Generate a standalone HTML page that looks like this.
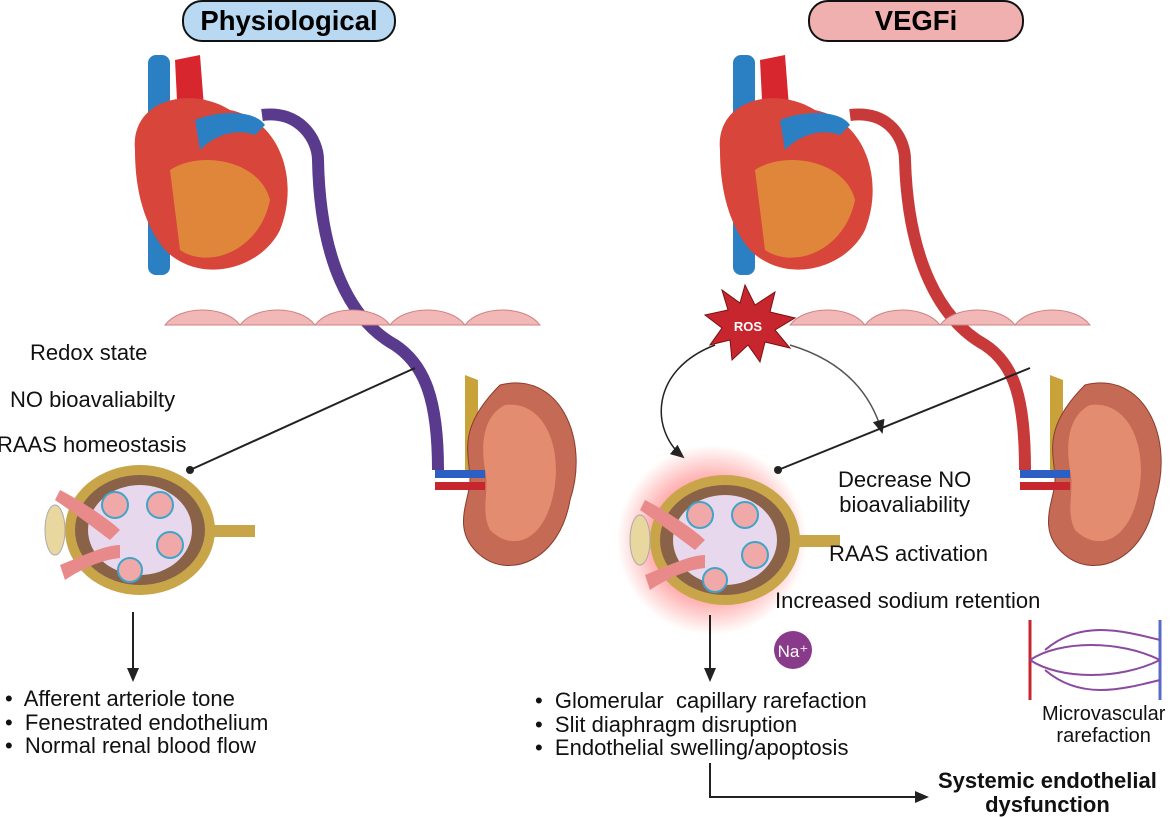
<!DOCTYPE html>
<html><head><meta charset="utf-8"><style>
body{margin:0;background:#fff;width:1171px;height:816px;overflow:hidden;position:relative;font-family:"Liberation Sans",sans-serif}
.t{position:absolute;font-size:22px;color:#111;white-space:nowrap}
.pill{position:absolute;top:0;height:38px;border:2px solid #111;border-radius:20px;font-weight:bold;font-size:27.5px;text-align:center;line-height:38px}
</style></head><body>
<div class="pill" style="left:182px;width:210px;background:#b8d9f1">Physiological</div>
<div class="pill" style="left:808px;width:212px;background:#f1b0b0">VEGFi</div>
<svg width="1171" height="816" style="position:absolute;left:0;top:0">
<defs>
<radialGradient id="glow"><stop offset="0.55" stop-color="#f55" stop-opacity="0.6"/><stop offset="1" stop-color="#f55" stop-opacity="0"/></radialGradient>
<marker id="ar" markerUnits="userSpaceOnUse" markerWidth="14" markerHeight="12" refX="12" refY="6" orient="auto"><path d="M0,0 L14,6 L0,12z" fill="#222"/></marker>
</defs>
<g id="heart">
<rect x="148" y="55" width="22" height="220" rx="8" fill="#2b7fc3"/>
<path d="M175 60 L178 120 L205 120 L200 55 Z" fill="#d8262f"/>
<path d="M135 150 C130 100 190 85 230 110 C280 120 300 180 280 230 C260 270 200 285 165 250 C140 220 135 180 135 150Z" fill="#d8453a"/>
<path d="M170 170 C200 150 260 160 270 200 C260 250 210 270 180 250Z" fill="#e0863a"/>
<path d="M195 120 C220 110 255 110 265 125 L255 135 C235 128 215 135 200 150Z" fill="#2b7fc3"/>
</g>
<use href="#heart" x="585"/>
<path d="M262 115 C300 110 318 140 318 160 C320 260 350 320 395 345 C425 365 438 400 438 470" stroke="#5a3a8c" stroke-width="12" fill="none"/>
<path d="M850 115 C890 110 905 140 905 160 C908 260 940 320 985 345 C1015 365 1025 400 1025 470" stroke="#c83a3a" stroke-width="12" fill="none"/>
<g fill="#f2b8b8" stroke="#d08080">
<path d="M165 325 C180 305 225 305 240 325Z"/><path d="M240 325 C255 305 300 305 315 325Z"/><path d="M315 325 C330 305 375 305 390 325Z"/><path d="M390 325 C405 305 450 305 465 325Z"/><path d="M465 325 C480 305 525 305 540 325Z"/>
<path d="M790 325 C805 305 850 305 865 325Z"/><path d="M865 325 C880 305 925 305 940 325Z"/><path d="M940 325 C955 305 1000 305 1015 325Z"/><path d="M1015 325 C1030 305 1075 305 1090 325Z"/>
</g>
<g id="kid">
<path d="M465 375 L465 470 L478 470 L478 380Z" fill="#c9a33a"/>
<path d="M500 385 C560 370 590 440 570 500 C560 560 510 580 480 555 C450 530 470 500 470 480 C470 455 455 430 500 385Z" fill="#c46a55" stroke="#8a3d2e"/>
<path d="M505 405 C545 400 565 450 552 500 C540 545 510 550 490 530 C480 510 490 490 485 470 C480 440 485 415 505 405Z" fill="#e48c70"/>
<rect x="435" y="470" width="50" height="8" fill="#2b5fc3"/><rect x="435" y="482" width="50" height="8" fill="#c8262f"/>
</g>
<use href="#kid" x="585"/>
<polygon points="745,285 755,305 775,292 770,312 795,318 775,330 790,348 765,342 760,362 748,345 732,360 730,340 710,345 722,328 705,315 728,310 722,290 740,303" fill="#c8262f" stroke="#7a1010"/>
<text x="748" y="331" font-size="13" font-weight="bold" fill="#fff" text-anchor="middle" font-family="Liberation Sans">ROS</text>
<path d="M715 345 C650 370 650 430 683 457" stroke="#222" stroke-width="1.5" fill="none" marker-end="url(#ar)"/>
<path d="M790 345 C840 360 870 390 882 432" stroke="#555" stroke-width="1.5" fill="none" marker-end="url(#ar)"/>
<line x1="415" y1="368" x2="190" y2="470" stroke="#222" stroke-width="2"/><circle cx="190" cy="470" r="4" fill="#222"/>
<line x1="1030" y1="368" x2="778" y2="470" stroke="#222" stroke-width="2"/><circle cx="778" cy="470" r="4" fill="#222"/>
<circle cx="712" cy="540" r="95" fill="url(#glow)"/>
<g id="glom">
<ellipse cx="140" cy="530" rx="75" ry="65" fill="#c9a54a"/>
<ellipse cx="140" cy="530" rx="65" ry="55" fill="#8a6248"/>
<ellipse cx="140" cy="530" rx="52" ry="45" fill="#e8d8ee"/>
<g fill="#f0a8a8" stroke="#3fa5c8" stroke-width="2"><circle cx="115" cy="505" r="13"/><circle cx="160" cy="505" r="13"/><circle cx="170" cy="545" r="13"/><circle cx="130" cy="570" r="12"/></g>
<path d="M60 490 C80 500 110 520 120 530 L110 540 C90 525 70 510 55 500Z" fill="#e88a8a"/>
<path d="M60 565 C85 555 105 545 120 545 L120 558 C100 560 80 570 65 580Z" fill="#e88a8a"/>
<rect x="210" y="525" width="45" height="12" fill="#c9a54a"/>
<ellipse cx="55" cy="530" rx="10" ry="25" fill="#e8d8a0" stroke="#aaa"/>
</g>
<use href="#glom" x="585" y="10"/>
<line x1="133" y1="612" x2="133" y2="680" stroke="#222" stroke-width="2" marker-end="url(#ar)"/>
<line x1="710" y1="615" x2="710" y2="680" stroke="#222" stroke-width="2" marker-end="url(#ar)"/>
<path d="M710 763 L710 797 L927 797" stroke="#222" stroke-width="2" fill="none" marker-end="url(#ar)"/>
<circle cx="793" cy="650" r="19" fill="#8a3a8a"/>
<text x="793" y="657" font-size="17" fill="#fff" text-anchor="middle" font-family="Liberation Sans">Na⁺</text>
<g fill="none" stroke-width="3">
<path d="M1030 620 L1030 700" stroke="#c8262f"/><path d="M1160 620 L1160 700" stroke="#5a6ac8"/>
<path d="M1030 660 C1060 640 1120 640 1160 660 M1030 660 C1060 680 1120 680 1160 660 M1045 650 C1080 620 1120 630 1160 640 M1045 670 C1080 700 1120 690 1160 680" stroke="#8a4aa0" stroke-width="2"/>
</g>
</svg>
<div class="t" style="left:30px;top:340px">Redox state</div>
<div class="t" style="left:10px;top:387px">NO bioavaliabilty</div>
<div class="t" style="left:-3px;top:432px">RAAS homeostasis</div>
<div class="t" style="left:5px;top:687px;line-height:23.5px">•&nbsp; Afferent arteriole tone<br>•&nbsp; Fenestrated endothelium<br>•&nbsp; Normal renal blood flow</div>
<div class="t" style="left:535px;top:689px;line-height:23.5px">•&nbsp; Glomerular&nbsp; capillary rarefaction<br>•&nbsp; Slit diaphragm disruption<br>•&nbsp; Endothelial swelling/apoptosis</div>
<div class="t" style="left:838px;top:467px;text-align:center;line-height:25px">Decrease NO<br>bioavaliability</div>
<div class="t" style="left:829px;top:541px">RAAS activation</div>
<div class="t" style="left:775px;top:588px">Increased sodium retention</div>
<div class="t" style="left:1042px;top:703px;font-size:20px;text-align:center;line-height:22px">Microvascular<br>rarefaction</div>
<div class="t" style="left:938px;top:769px;font-weight:bold;text-align:center;line-height:24px">Systemic endothelial<br>dysfunction</div>
</body></html>
